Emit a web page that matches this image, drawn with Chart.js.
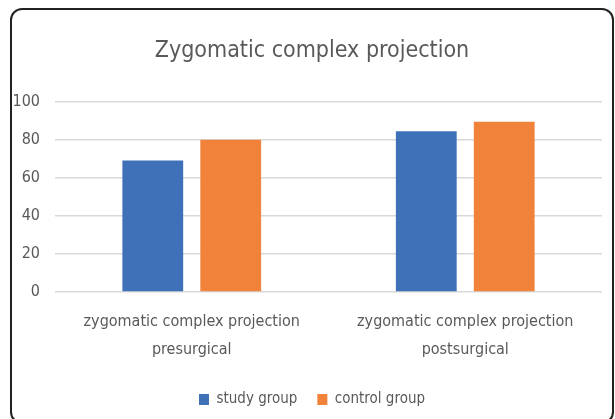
<!DOCTYPE html>
<html>
<head>
<meta charset="utf-8">
<script src="https://cdn.jsdelivr.net/npm/chart.js@4.4.1/dist/chart.umd.min.js"></script>
<style>
  html,body{margin:0;padding:0;background:#fff;width:615px;height:419px;overflow:hidden;}
  #frame{position:absolute;left:10px;top:8px;width:600px;height:412px;border:2px solid #222;border-radius:12px;box-sizing:content-box;}
  #wrap{position:absolute;left:0;top:0;width:615px;height:419px;}
</style>
</head>
<body>
<div id="frame"></div>
<div id="wrap"><canvas id="c" width="615" height="419"></canvas></div>
<script>
const chartTitle = "Zygomatic complex projection";
const categories = [
  ["zygomatic complex projection", "presurgical"],
  ["zygomatic complex projection", "postsurgical"]
];
const seriesNames = ["study group", "control group"];
const studyValues = [69, 84.4];
const controlValues = [80, 89.4];
const yTicks = [0, 20, 40, 60, 80, 100];

const FONT = "'Liberation Sans Narrow', 'DejaVu Sans Condensed', sans-serif";
const TXT = "#595959";

// centre title and legend inside the framed box rather than the full canvas
const centreShift = {
  id: 'centreShift',
  afterLayout(chart) {
    const d = 11;
    if (chart.titleBlock) { chart.titleBlock.left += d; chart.titleBlock.right += d; }
    if (chart.legend) { chart.legend.left += d; chart.legend.right += d; }
  }
};

new Chart(document.getElementById('c'), {
  type: 'bar',
  data: {
    labels: categories,
    datasets: [
      { label: seriesNames[0], data: studyValues, backgroundColor: '#3F71B8', borderWidth: 0 },
      { label: seriesNames[1], data: controlValues, backgroundColor: '#F0823A', borderWidth: 0 }
    ]
  },
  plugins: [centreShift],
  options: {
    responsive: false,
    animation: false,
    devicePixelRatio: 1,
    layout: { padding: { left: 0, right: 13, top: 9, bottom: 2 } },
    datasets: { bar: { categoryPercentage: 0.57, barPercentage: 0.78 } },
    plugins: {
      title: {
        display: true, text: chartTitle, color: TXT,
        font: { family: FONT, size: 23, weight: 'normal' },
        padding: { top: 28, bottom: 37 }
      },
      legend: {
        position: 'bottom',
        labels: {
          color: TXT, boxWidth: 10, boxHeight: 11, padding: 20,
          font: { family: FONT, size: 15 }
        }
      },
      tooltip: { enabled: false }
    },
    scales: {
      x: {
        grid: { display: false, drawTicks: false },
        border: { display: false },
        ticks: { color: TXT, padding: 16, font: { family: FONT, size: 16, lineHeight: 1.75 } },
        afterFit: s => { s.height = 80; }
      },
      y: {
        min: 0, max: 100,
        afterBuildTicks: s => { s.ticks = yTicks.map(v => ({ value: v })); },
        grid: { color: '#D9D9D9', lineWidth: 1.5, drawTicks: false },
        border: { display: false },
        ticks: { color: TXT, padding: 15, font: { family: FONT, size: 16 } },
        afterFit: s => { s.width = 55; }
      }
    }
  }
});
</script>
</body>
</html>
